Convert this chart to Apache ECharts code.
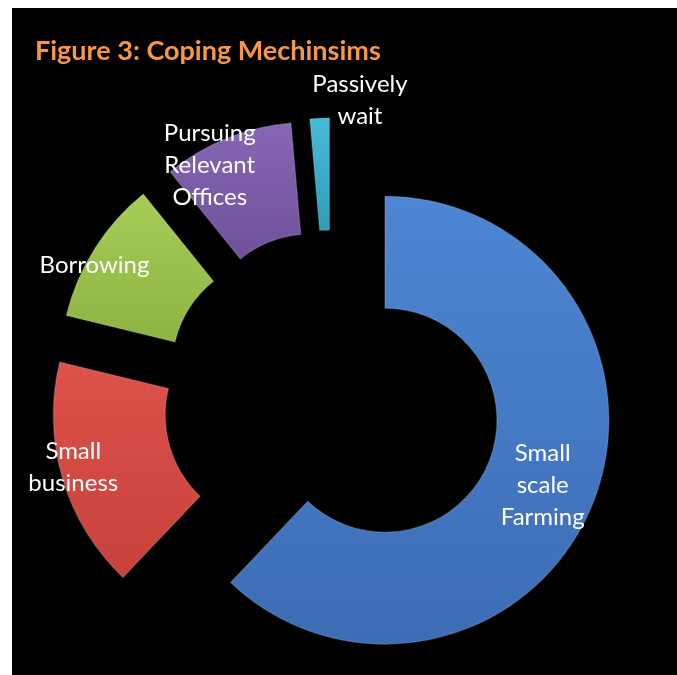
<!DOCTYPE html>
<html>
<head>
<meta charset="utf-8">
<script src="https://cdn.jsdelivr.net/npm/echarts@6/dist/echarts.min.js"></script>
<style>
  html, body { margin: 0; padding: 0; background: #ffffff; width: 677px; height: 675px; overflow: hidden; }
  #chart { position: absolute; left: 12px; top: 8px; width: 665px; height: 667px; }
</style>
</head>
<body>
<div id="chart"></div>
<script>
// ---- data ----
const titleText = 'Figure 3: Coping Mechinsims';
const categories = ['Small scale Farming', 'Small business', 'Borrowing', 'Pursuing Relevant Offices', 'Passively wait'];
const labelLines = ['Small\nscale\nFarming', 'Small\nbusiness', 'Borrowing', 'Pursuing\nRelevant\nOffices', 'Passively\nwait'];
const values = [62.1, 16.7, 10.4, 9.4, 1.4];

// ---- styles ----
const gradients = [
  ['#4C86D4', '#3D6DB4'],
  ['#DD524B', '#C8413B'],
  ['#A6CD55', '#8DB343'],
  ['#8767B5', '#6F509A'],
  ['#45BBD6', '#309CB8']
];
const labelShift = [
  [-1, 2],
  [-40, 4],
  [-45, -12],
  [-37, -22],
  [38, -71]
];

const chart = echarts.init(document.getElementById('chart'), null, { renderer: 'canvas' });

const data = categories.map((name, i) => ({
  name: name,
  value: values[i],
  selected: true,
  itemStyle: {
    color: new echarts.graphic.LinearGradient(0, 0, 0, 1, [
      { offset: 0, color: gradients[i][0] },
      { offset: 1, color: gradients[i][1] }
    ]),
    borderColor: 'rgba(255,255,255,0.15)',
    borderWidth: 1.5
  },
  label: { formatter: labelLines[i] }
}));

chart.setOption({
  backgroundColor: '#000000',
  animation: false,
  title: {
    text: titleText,
    left: 18,
    top: 25,
    textStyle: {
      color: '#F79646',
      fontFamily: 'Lato',
      fontWeight: 'bold',
      fontSize: 27
    }
  },
  series: [{
    type: 'pie',
    center: [320, 391],
    radius: [112, 224],
    startAngle: 90,
    clockwise: true,
    selectedMode: 'multiple',
    selectedOffset: 57,
    avoidLabelOverlap: false,
    silent: true,
    label: {
      show: true,
      position: 'inside',
      color: '#ffffff',
      fontFamily: 'Lato',
      fontSize: 24,
      lineHeight: 32,
      align: 'center'
    },
    labelLine: { show: false },
    select: { itemStyle: {} },
    emphasis: { disabled: true },
    labelLayout: function (params) {
      const s = labelShift[params.dataIndex];
      return { dx: s[0], dy: s[1] };
    },
    data: data
  }]
});
</script>
</body>
</html>
